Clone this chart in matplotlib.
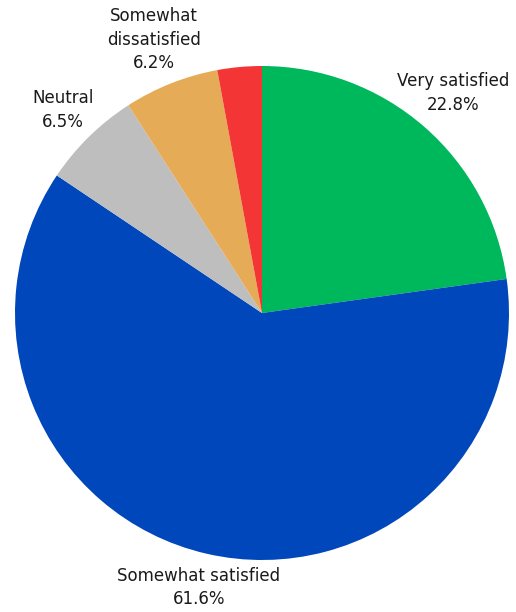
import numpy as np
import matplotlib.pyplot as plt

# === Data ===
categories = ["Very satisfied", "Somewhat satisfied", "Neutral",
              "Somewhat dissatisfied", "Very dissatisfied"]
shares = [22.8, 61.6, 6.5, 6.2, 2.9]
show_label = [True, True, True, True, False]
label_text = ["Very satisfied", "Somewhat satisfied", "Neutral",
              "Somewhat\ndissatisfied", ""]
colors = ["#00B85C", "#0047BB", "#BEBEBE", "#E6AB57", "#F43535"]
label_dist = [1.18, 1.14, 1.15, 1.19, 1.15]

# === Figure ===
W, H = 516, 612
fig = plt.figure(figsize=(W / 100, H / 100), dpi=100)
cx, cy, r = 262, 313, 247
ax = fig.add_axes([(cx - r) / W, (H - cy - r) / H, 2 * r / W, 2 * r / H])

wedges, _ = ax.pie(shares, colors=colors, startangle=90, counterclock=False,
                   radius=1.0, wedgeprops=dict(linewidth=0))

for w, name, val, show, d in zip(wedges, label_text, shares, show_label, label_dist):
    if not show:
        continue
    mid = np.deg2rad((w.theta1 + w.theta2) / 2)
    ax.text(d * np.cos(mid), d * np.sin(mid), f"{name}\n{val}%",
            ha='center', va='center', fontsize=12, color='#1a1a1a',
            linespacing=1.4)

ax.set_xlim(-1, 1)
ax.set_ylim(-1, 1)
ax.set_aspect('equal')
ax.axis('off')

fig.savefig("out.png", dpi=100)
